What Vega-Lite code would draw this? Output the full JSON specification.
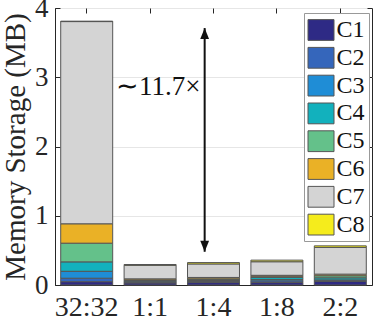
{
  "$schema": "https://vega.github.io/schema/vega-lite/v6.json",
  "width": 317,
  "height": 277,
  "autosize": "none",
  "padding": {"left": 55, "top": 8, "right": 2, "bottom": 34},
  "background": "white",
  "config": {
    "font": "Times New Roman",
    "view": {"stroke": "#262626", "strokeWidth": 1},
    "axis": {"labelFont": "Times New Roman", "titleFont": "Times New Roman", "labelColor": "#262626", "titleColor": "#262626", "domainColor": "#262626", "tickColor": "#262626", "titleFontWeight": "normal"},
    "legend": {"labelFont": "Times New Roman"},
    "text": {"font": "Times New Roman"}
  },
  "datasets": {
    "bars": [
      {"cfg": "32:32", "comp": "C1", "k": 1, "v": 0.048},
      {"cfg": "32:32", "comp": "C2", "k": 2, "v": 0.05},
      {"cfg": "32:32", "comp": "C3", "k": 3, "v": 0.10},
      {"cfg": "32:32", "comp": "C4", "k": 4, "v": 0.136},
      {"cfg": "32:32", "comp": "C5", "k": 5, "v": 0.27},
      {"cfg": "32:32", "comp": "C6", "k": 6, "v": 0.28},
      {"cfg": "32:32", "comp": "C7", "k": 7, "v": 2.92},
      {"cfg": "32:32", "comp": "C8", "k": 8, "v": 0.006},
      {"cfg": "1:1", "comp": "C1", "k": 1, "v": 0.03},
      {"cfg": "1:1", "comp": "C2", "k": 2, "v": 0.012},
      {"cfg": "1:1", "comp": "C3", "k": 3, "v": 0.012},
      {"cfg": "1:1", "comp": "C4", "k": 4, "v": 0.01},
      {"cfg": "1:1", "comp": "C5", "k": 5, "v": 0.01},
      {"cfg": "1:1", "comp": "C6", "k": 6, "v": 0.015},
      {"cfg": "1:1", "comp": "C7", "k": 7, "v": 0.195},
      {"cfg": "1:1", "comp": "C8", "k": 8, "v": 0.012},
      {"cfg": "1:4", "comp": "C1", "k": 1, "v": 0.035},
      {"cfg": "1:4", "comp": "C2", "k": 2, "v": 0.015},
      {"cfg": "1:4", "comp": "C3", "k": 3, "v": 0.015},
      {"cfg": "1:4", "comp": "C4", "k": 4, "v": 0.012},
      {"cfg": "1:4", "comp": "C5", "k": 5, "v": 0.012},
      {"cfg": "1:4", "comp": "C6", "k": 6, "v": 0.02},
      {"cfg": "1:4", "comp": "C7", "k": 7, "v": 0.195},
      {"cfg": "1:4", "comp": "C8", "k": 8, "v": 0.02},
      {"cfg": "1:8", "comp": "C1", "k": 1, "v": 0.035},
      {"cfg": "1:8", "comp": "C2", "k": 2, "v": 0.025},
      {"cfg": "1:8", "comp": "C3", "k": 3, "v": 0.02},
      {"cfg": "1:8", "comp": "C4", "k": 4, "v": 0.03},
      {"cfg": "1:8", "comp": "C5", "k": 5, "v": 0.01},
      {"cfg": "1:8", "comp": "C6", "k": 6, "v": 0.02},
      {"cfg": "1:8", "comp": "C7", "k": 7, "v": 0.196},
      {"cfg": "1:8", "comp": "C8", "k": 8, "v": 0.023},
      {"cfg": "2:2", "comp": "C1", "k": 1, "v": 0.05},
      {"cfg": "2:2", "comp": "C2", "k": 2, "v": 0.012},
      {"cfg": "2:2", "comp": "C3", "k": 3, "v": 0.012},
      {"cfg": "2:2", "comp": "C4", "k": 4, "v": 0.03},
      {"cfg": "2:2", "comp": "C5", "k": 5, "v": 0.03},
      {"cfg": "2:2", "comp": "C6", "k": 6, "v": 0.023},
      {"cfg": "2:2", "comp": "C7", "k": 7, "v": 0.385},
      {"cfg": "2:2", "comp": "C8", "k": 8, "v": 0.023}
    ],
    "arrow": [
      {"cfg": "1:4", "top": 3.71, "bottom": 0.48}
    ],
    "heads": [
      {"cfg": "1:4", "y": 3.71, "dir": "up"},
      {"cfg": "1:4", "y": 0.48, "dir": "down"}
    ],
    "note": [
      {"cfg": "1:4", "y": 2.74, "label": "∼11.7×"}
    ]
  },
  "resolve": {"axis": {"x": "independent", "y": "independent"}},
  "layer": [
    {
      "data": {"name": "bars"},
      "mark": {"type": "bar", "stroke": "#555555", "strokeWidth": 1},
      "encoding": {
        "x": {
          "field": "cfg", "type": "nominal", "sort": ["32:32", "1:1", "1:4", "1:8", "2:2"],
          "scale": {"paddingInner": 0.18, "paddingOuter": 0.09},
          "axis": {"title": null, "labelAngle": 0, "labelFontSize": 28, "tickSize": -5, "labelPadding": 13, "domain": true, "grid": false}
        },
        "y": {
          "field": "v", "type": "quantitative", "stack": "zero",
          "scale": {"domain": [0, 4], "nice": false},
          "axis": {"title": "Memory Storage (MB)", "titleFontSize": 29, "labelFontSize": 27, "values": [0, 1, 2, 3, 4], "tickSize": -5, "labelPadding": 12, "titlePadding": 4, "grid": true, "gridColor": "#e6e6e6"}
        },
        "color": {
          "field": "comp", "type": "nominal",
          "scale": {"domain": ["C1", "C2", "C3", "C4", "C5", "C6", "C7", "C8"], "range": ["#2e2a85", "#3566bb", "#1f8dd6", "#12b1bd", "#64c18a", "#eab126", "#d4d4d4", "#f5ec1c"]},
          "legend": {
            "title": null, "orient": "none", "legendX": 249, "legendY": 5,
            "labelFontSize": 24, "labelFont": "Times New Roman", "labelColor": "#111111",
            "symbolType": "M-1,-0.8H1V0.8H-1Z", "symbolSize": 676, "symbolStrokeColor": "#555555", "symbolStrokeWidth": 1,
            "rowPadding": 1.8, "labelOffset": 2, "padding": 3.5,
            "fillColor": "white", "strokeColor": "#999999"
          }
        },
        "order": {"field": "k", "type": "quantitative", "sort": "ascending"}
      }
    },
    {
      "data": {"name": "arrow"},
      "mark": {"type": "rule", "color": "#111111", "strokeWidth": 2},
      "encoding": {
        "x": {
          "field": "cfg", "type": "nominal", "bandPosition": 0.33, "sort": ["32:32", "1:1", "1:4", "1:8", "2:2"],
          "axis": {"orient": "top", "title": null, "labels": false, "tickSize": -5, "domain": false, "grid": false}
        },
        "y": {
          "field": "top", "type": "quantitative",
          "axis": {"orient": "right", "title": null, "labels": false, "values": [0, 1, 2, 3, 4], "tickSize": -5, "domain": false, "grid": false}
        },
        "y2": {"field": "bottom"}
      }
    },
    {
      "data": {"name": "heads"},
      "mark": {"type": "point", "filled": true, "color": "#111111", "opacity": 1, "size": 121},
      "encoding": {
        "x": {"field": "cfg", "type": "nominal", "bandPosition": 0.33, "sort": ["32:32", "1:1", "1:4", "1:8", "2:2"], "axis": null},
        "y": {"field": "y", "type": "quantitative", "axis": null},
        "shape": {
          "field": "dir", "type": "nominal",
          "scale": {"domain": ["up", "down"], "range": ["M0,0L0.8,2L-0.8,2Z", "M0,0L0.8,-2L-0.8,-2Z"]},
          "legend": null
        }
      }
    },
    {
      "data": {"name": "note"},
      "mark": {"type": "text", "align": "right", "baseline": "alphabetic", "fontSize": 27, "font": "Times New Roman", "color": "#111111"},
      "encoding": {
        "x": {"field": "cfg", "type": "nominal", "bandPosition": 0.25, "sort": ["32:32", "1:1", "1:4", "1:8", "2:2"], "axis": null},
        "y": {"field": "y", "type": "quantitative", "axis": null},
        "text": {"field": "label"}
      }
    }
  ]
}
